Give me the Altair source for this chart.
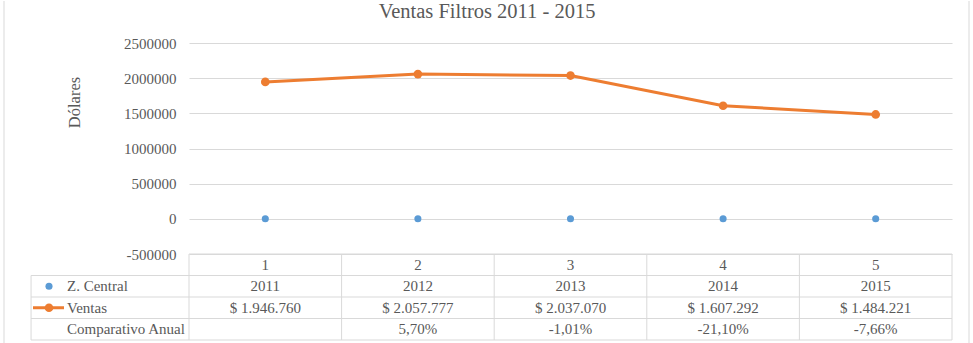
import altair as alt
import pandas as pd

# ---- data ----
cols = [1, 2, 3, 4, 5]
years = [2011, 2012, 2013, 2014, 2015]
ventas = [1946760, 2057777, 2037070, 1607292, 1484221]
comparativo = [None, 5.70, -1.01, -21.10, -7.66]
y_ticks = [-500000, 0, 500000, 1000000, 1500000, 2000000, 2500000]
chart_title = "Ventas Filtros 2011 - 2015"
y_title = "Dólares"
row_labels = ["Z. Central", "Ventas", "Comparativo Anual"]

# ---- style ----
FONT = "Liberation Serif"
TXT = "#595959"
GRID = "#D9D9D9"
BLUE = "#5B9BD5"
ORANGE = "#ED7D31"
FS = 15

W, H = 763, 211      # plot area
TH = 86              # table height
LC = 0.5 - 1.035     # left edge of the label column in column units

df = pd.DataFrame({"col": cols, "year": years, "ventas": ventas})
one = pd.DataFrame({"a": [0]})

xs = alt.Scale(domain=[0.5, 5.5], nice=False, zero=False)
X = alt.X("col:Q", scale=xs, axis=None)
ys = alt.Scale(domain=[-500000, 2500000], nice=False, zero=False)

yaxis = alt.Axis(values=y_ticks, labelExpr="datum.value + ''", labelOverlap=False,
                 grid=True, gridColor=GRID,
                 gridWidth=1, domain=False, ticks=False, labelPadding=13,
                 labelFont=FONT, labelFontSize=FS, labelColor=TXT,
                 title=y_title, titleFont=FONT, titleFontSize=16.5, titleColor=TXT,
                 titleFontWeight="normal", titleAngle=270, titleX=-115, titleY=59,
                 titleAlign="center", titleBaseline="middle")

line = alt.Chart(df).mark_line(color=ORANGE, strokeWidth=3).encode(
    x=X, y=alt.Y("ventas:Q", scale=ys, axis=yaxis, title=y_title))
vpts = alt.Chart(df).mark_circle(color=ORANGE, size=75, opacity=1).encode(
    x=X, y=alt.Y("ventas:Q", scale=ys, axis=yaxis, title=y_title))
zpts = alt.Chart(df).mark_circle(color=BLUE, size=50, opacity=1).encode(
    x=X, y=alt.Y("year:Q", scale=ys, axis=yaxis, title=y_title))
title_mark = alt.Chart(one).mark_text(text=chart_title, font=FONT, fontSize=20.5, color=TXT,
                                      align="center", baseline="middle").encode(
    x=alt.value(298), y=alt.value(-31))
bl_top = alt.Chart(one).mark_rule(color=GRID, strokeWidth=1).encode(
    x=alt.value(-185), y=alt.value(-42), y2=alt.value(H))
br_top = alt.Chart(one).mark_rule(color=GRID, strokeWidth=1).encode(
    x=alt.value(780), y=alt.value(-42), y2=alt.value(H))

top = alt.layer(line, bl_top, br_top, vpts, zpts, title_mark).properties(width=W, height=H)

# ---- table ----
tys = alt.Scale(domain=[0, 4], reverse=True, nice=False, zero=False)

hl = pd.DataFrame({"y": [0, 1, 2, 3, 4], "x1": [0.5, LC, LC, LC, LC], "x2": [5.5] * 5})
vl = pd.DataFrame({"x": [LC, 0.5, 1.5, 2.5, 3.5, 4.5, 5.5],
                   "y1": [1, 0, 0, 0, 0, 0, 0], "y2": [4] * 7})

cells = []
for i, c in enumerate(cols):
    cells.append({"col": c, "row": 0.5, "text": str(c)})
    cells.append({"col": c, "row": 1.5, "text": str(years[i])})
    cells.append({"col": c, "row": 2.5, "text": "$ " + f"{ventas[i]:,}".replace(",", ".")})
    if comparativo[i] is not None:
        cells.append({"col": c, "row": 3.5,
                      "text": f"{comparativo[i]:.2f}".replace(".", ",") + "%"})
cells = pd.DataFrame(cells)
labels = pd.DataFrame({"row": [1.5, 2.5, 3.5], "label": row_labels})

hrules = alt.Chart(hl).mark_rule(color=GRID, strokeWidth=1).encode(
    x=alt.X("x1:Q", scale=xs, axis=None), x2="x2:Q",
    y=alt.Y("y:Q", scale=tys, axis=None))
vrules = alt.Chart(vl).mark_rule(color=GRID, strokeWidth=1).encode(
    x=alt.X("x:Q", scale=xs, axis=None),
    y=alt.Y("y1:Q", scale=tys, axis=None), y2="y2:Q")
ctext = alt.Chart(cells).mark_text(font=FONT, fontSize=FS, color=TXT, align="center",
                                   baseline="middle").encode(
    x=alt.X("col:Q", scale=xs, axis=None), y=alt.Y("row:Q", scale=tys, axis=None),
    text="text:N")
ltext = alt.Chart(labels).mark_text(font=FONT, fontSize=FS, color=TXT, align="left",
                                    baseline="middle").encode(
    x=alt.value(-122), y=alt.Y("row:Q", scale=tys, axis=None), text="label:N")
leg_z = alt.Chart(pd.DataFrame({"row": [1.5]})).mark_circle(color=BLUE, size=50, opacity=1).encode(
    x=alt.value(-140), y=alt.Y("row:Q", scale=tys, axis=None))
leg_v_line = alt.Chart(pd.DataFrame({"row": [2.5]})).mark_rule(color=ORANGE, strokeWidth=3).encode(
    x=alt.value(-156), x2=alt.value(-125), y=alt.Y("row:Q", scale=tys, axis=None))
leg_v_pt = alt.Chart(pd.DataFrame({"row": [2.5]})).mark_circle(color=ORANGE, size=75, opacity=1).encode(
    x=alt.value(-140), y=alt.Y("row:Q", scale=tys, axis=None))
bl_bot = alt.Chart(one).mark_rule(color=GRID, strokeWidth=1).encode(
    x=alt.value(-185), y=alt.value(0), y2=alt.value(TH + 4))
br_bot = alt.Chart(one).mark_rule(color=GRID, strokeWidth=1).encode(
    x=alt.value(780), y=alt.value(0), y2=alt.value(TH + 4))

table = alt.layer(bl_bot, br_bot, hrules, vrules, ctext, ltext, leg_v_line, leg_v_pt, leg_z
                  ).properties(width=W, height=TH)

chart = alt.vconcat(top, table, spacing=0, bounds="flush").configure_view(
    stroke=None).configure_text(font=FONT).configure_axis(labelFont=FONT, titleFont=FONT
    ).properties(padding={"left": 3, "top": 0, "right": 0, "bottom": 0}, background="white")

chart.save("out.html", embed_options={"renderer": "svg", "actions": False})
